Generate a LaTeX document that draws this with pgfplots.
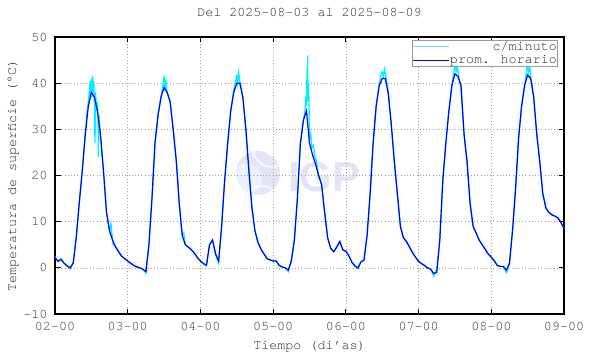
\documentclass[border=0pt]{standalone}
\usepackage{fontspec}
\setmainfont{TeX Gyre Cursor}
\newfontfamily\wmfont{Liberation Sans}
\usepackage{pgfplots}
\pgfplotsset{compat=1.18}
\definecolor{wmc}{RGB}{228,228,246}
\definecolor{wml}{RGB}{234,242,255}
\definecolor{cmin}{RGB}{0,240,255}
\begin{document}
\begin{tikzpicture}[font=\fontsize{13.4}{16}\selectfont]
\path[use as bounding box] (0,0) rectangle (590bp,354bp);
% watermark
\fill[wmc] (258bp,181bp) circle (22bp);
\begin{scope}
\clip (258bp,181bp) circle (22bp);
\fill[wml] (247bp,175bp) circle (15bp);
\draw[white, line width=1.3bp] (272bp,206bp) circle (19bp);
\draw[white, line width=1.3bp] (276bp,208bp) circle (11bp);
\draw[white, line width=1.3bp] (262bp,150bp) circle (18bp);
\end{scope}
\node[wmc, anchor=base west, inner sep=0, font=\wmfont\bfseries\fontsize{42}{42}\selectfont] at (288bp,162bp) {IGP};
\begin{axis}[
  at={(55bp,40bp)}, anchor=south west,
  scale only axis, width=509bp, height=277bp,
  xmin=0, xmax=168, ymin=-10, ymax=50,
  xtick={0,24,48,72,96,120,144,168},
  xticklabels={02-00,03-00,04-00,05-00,06-00,07-00,08-00,09-00},
  ytick={-10,0,10,20,30,40,50},
  yticklabels={-10,0,10,20,30,40,50},
  /pgf/number format/assume math mode=true,
  grid=major,
  major grid style={gray!75, line width=0.6bp, dash pattern=on 1bp off 2.2bp},
  axis line style={line width=1.2bp, black},
  tick style={black, line width=0.9bp},
  major tick length=5.5bp,
  tick align=inside,
  xticklabel style={anchor=base, yshift=-16.5bp, text=black!80},
  yticklabel style={anchor=east, xshift=-4bp, text=black!80},
  title={Del 2025-08-03 al 2025-08-09},
  title style={at={(axis description cs:0.5,1.054)}, anchor=base, text=black!85},
  xlabel={Tiempo (di'as)},
  xlabel style={at={(axis description cs:0.5,-0.128)}, anchor=base, text=black!85},
  ylabel={Temperatura de superficie (°C)},
  ylabel style={at={(axis description cs:-0.0766,0.5)}, anchor=base, rotate=0, text=black!85},
  legend style={at={(axis description cs:0.988,0.989)}, anchor=north east,
    draw=gray!80, line width=0.6bp, fill=white, inner sep=0.5bp, row sep=3.5bp,
    nodes={inner sep=0.3bp}, text=black!85},
  legend cell align=right,
  legend image code/.code={\draw[#1] (0bp,0bp) -- (36bp,0bp);},
]
\addplot[cmin, line width=1.3bp, forget plot] coordinates {
(0,2.4) (1,1.5) (2,2.0) (3,1.0) (4,0.5) (5,-0.2) (6,1.0) (7,6.5) (8,14) (9,21) (10,29)
(10.5,33) (11,36) (11.3,38) (11.6,40.5) (11.8,36.5) (12.0,41) (12.2,37) (12.4,41.5)
(12.6,38) (12.8,40.5) (13.0,36) (13.2,27) (13.4,38) (13.7,34) (14.0,36) (14.2,33)
(14.3,24) (14.5,33) (15,28.5) (16,21) (17,12) (18,8) (18.5,9.5) (19,6) (19.2,5)
(20,4.5) (21,3.5) (22,2.5) (23,2.0) (24,1.5) (25,1.0) (26,0.5) (27,0.2) (28,0.0)
(29,-0.3) (30,-1.2) (31,5) (32,15) (33,27) (34,33) (35,37) (35.5,39) (35.8,40.5)
(36.0,39) (36.2,41.5) (36.4,38.5) (36.7,40) (37,38) (38,36) (39,30) (40,23.4) (41,14)
(42,7) (42.5,7.5) (43,5) (44,4.5) (45,3.9) (46,3.2) (47,2.2) (48,1.5) (49,0.9) (50,0.4)
(51,5.0) (52,6.0) (53,3.0) (54,1.0) (55,9) (56,19) (57,27) (58,34) (59,38.5) (59.5,40)
(60,41.5) (60.3,40) (60.6,42.3) (61,40.5) (62,37) (63,30) (64,21) (65,13) (66,8)
(67,5.5) (68,4) (69,3) (70,2) (71,1.7) (72,1.5) (73,1.5) (74,0.5) (75,0.2) (76,0.0)
(77,-0.8) (78,1.5) (79,6) (80,15) (81,27) (82,32) (82.5,34) (82.8,37) (83.0,35)
(83.2,43) (83.3,37) (83.4,46) (83.5,36) (83.7,40) (83.9,33) (84.0,28) (84.4,29)
(84.8,26) (85.3,26.5) (85.8,24) (86.3,23) (86.8,20.5) (87.3,19.5) (88,18) (89,12)
(90,6.5) (91,4.2) (92,3.5) (93,4.5) (94,5.7) (95,3.9) (96,3.6) (97,2.6) (98,1.2)
(99,0.4) (100,-0.2) (101,1.3) (102,1.7) (103,7) (104,16) (105,27) (106,35) (107,39.5)
(107.5,41.5) (108,42.5) (108.4,41.5) (108.8,43) (109.2,41.5) (110,38) (111,31) (112,23)
(113,16) (114,9) (115,6.5) (116,5.7) (117,4.5) (118,3.3) (119,2.3) (120,1.4) (121,0.9)
(122,0.5) (123,0.0) (124,-0.3) (125,-1.8) (126,-0.3) (127,6) (128,19) (129,27) (130,34)
(131,39.5) (131.5,42) (132,44) (132.4,42.5) (132.8,43.5) (133.2,41.5) (134,39.5)
(134.8,31) (135,29) (136,23) (137,14) (138,9) (139,7.5) (140,6) (141,5) (142,4) (143,3)
(144,2.3) (145,1.5) (146,0.5) (147,0.3) (148,0.3) (149,-1.0) (150,1.0) (151,8) (152,17)
(153,28) (154,35) (155,39.5) (155.5,42) (155.9,44) (156.3,42.5) (156.7,43.5) (157.1,41)
(158,37) (159,29) (160,23) (161,16) (161.5,15) (162,13) (163,12) (164,11.5) (165,11.2)
(166,10.8) (167,9.8) (168,8.5)
};
\addlegendimage{color=cyan!50, line width=1bp}
\addlegendentry{c/minuto}
\addplot[blue, line width=1.2bp] coordinates {
(0,2.2) (1,1.4) (2,1.8) (3,1.0) (4,0.4) (5,0.0) (6,1.0) (7,6.5) (8,14) (9,21)
(10,29) (11,35) (12,38) (13,37) (14,34) (15,29) (16,21) (17,12) (18,8) (19,6)
(20,4.5) (21,3.5) (22,2.5) (23,2.0) (24,1.5) (25,1.0) (26,0.5) (27,0.2) (28,0.0) (29,-0.3)
(30,-0.8) (31,5) (32,15) (33,27) (34,33) (35,37) (36,39) (37,38) (38,36) (39,30)
(40,23.4) (41,14) (42,7) (43,5) (44,4.5) (45,3.9) (46,3.2) (47,2.2) (48,1.5) (49,0.9)
(50,0.6) (51,5.0) (52,6.0) (53,3.0) (54,1.5) (55,9) (56,19) (57,27) (58,34) (59,38)
(60,40) (61,40) (62,37) (63,30) (64,21) (65,13) (66,8) (67,5.5) (68,4) (69,3)
(70,2) (71,1.7) (72,1.5) (73,1.5) (74,0.5) (75,0.2) (76,0.0) (77,-0.5) (78,1.5) (79,6)
(80,15) (81,27) (82,32) (83,34) (84,27) (85,24.5) (86,22.5) (87,20) (88,18) (89,12)
(90,6.5) (91,4.2) (92,3.5) (93,4.5) (94,5.7) (95,3.9) (96,3.6) (97,2.6) (98,1.2) (99,0.4)
(100,0.0) (101,1.3) (102,1.7) (103,7) (104,16) (105,27) (106,35) (107,39.5) (108,41) (109,41)
(110,37.8) (111,31) (112,23) (113,16) (114,9) (115,6.5) (116,5.7) (117,4.5) (118,3.3) (119,2.3)
(120,1.4) (121,0.9) (122,0.5) (123,0.0) (124,-0.3) (125,-1.2) (126,-1.0) (127,6) (128,19) (129,27)
(130,34) (131,39.5) (132,42) (133,41.5) (134,39.5) (135,29) (136,23) (137,14) (138,9) (139,7.5)
(140,6) (141,5) (142,4) (143,3) (144,2.3) (145,1.5) (146,0.5) (147,0.3) (148,0.3) (149,-0.5)
(150,1.0) (151,8) (152,17) (153,28) (154,35) (155,39.5) (156,41.8) (157,41) (158,37) (159,29)
(160,23) (161,16) (162,13) (163,12) (164,11.5) (165,11.2) (166,10.8) (167,9.8) (168,8.5)
};
\addlegendentry{prom. horario}
\end{axis}
\end{tikzpicture}
\end{document}
